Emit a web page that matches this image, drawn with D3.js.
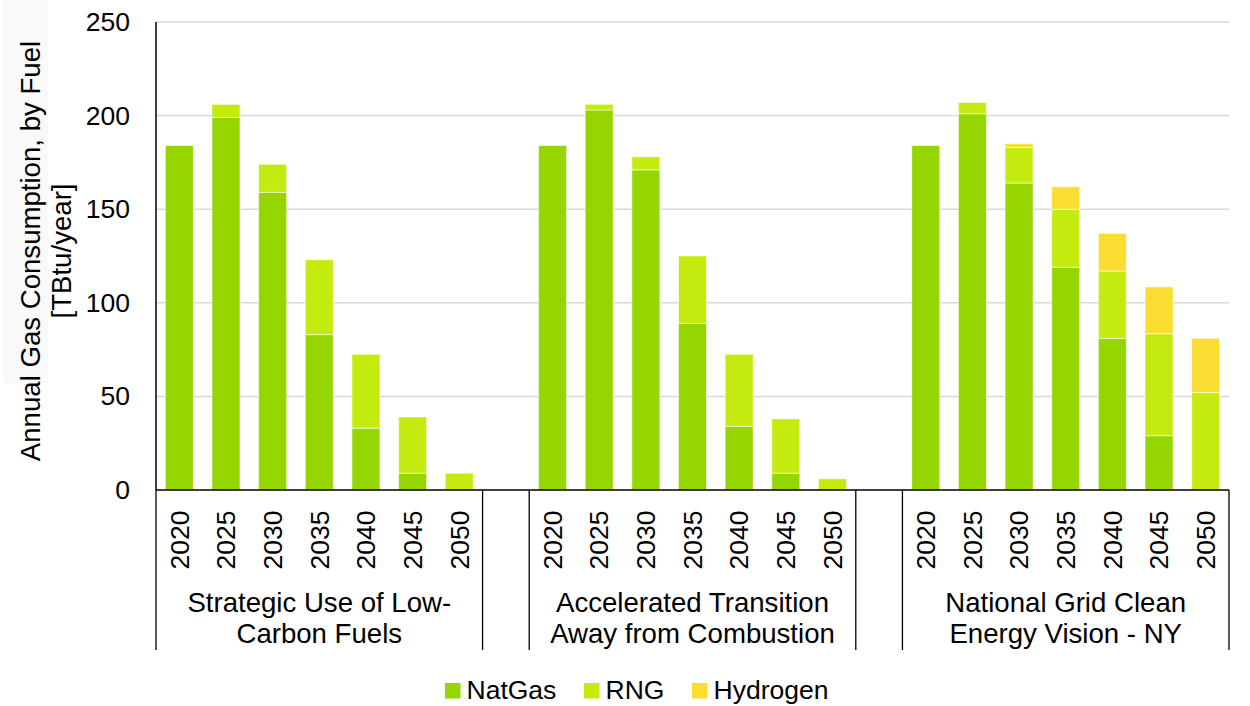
<!DOCTYPE html>
<html>
<head>
<meta charset="utf-8">
<script src="https://cdn.jsdelivr.net/npm/d3@7/dist/d3.min.js"></script>
<style>
  html, body { margin: 0; padding: 0; background: #ffffff; }
  svg { display: block; font-family: Arial, "Liberation Sans", sans-serif; }
</style>
</head>
<body>
<svg id="chart" width="1250" height="706"></svg>
<script>
// Scenario groups (each label split into its two display lines)
const scenarios = [
  ["Strategic Use of Low-", "Carbon Fuels"],
  ["Accelerated Transition", "Away from Combustion"],
  ["National Grid Clean", "Energy Vision - NY"]
];
const years = ["2020", "2025", "2030", "2035", "2040", "2045", "2050"];

// Annual consumption by fuel, TBtu/year (one row per scenario)
const natGas = [
  [184, 199, 159, 83, 33, 9, 0],
  [184, 203, 171, 89, 34, 9, 0],
  [184, 201, 164, 119, 81, 29, 0]
];
const rng = [
  [0, 7, 15, 40, 39.5, 30, 9],
  [0, 3, 7, 36, 38.5, 29, 6],
  [0, 6, 19, 31, 36, 54.5, 52]
];
const hydrogen = [
  [0, 0, 0, 0, 0, 0, 0],
  [0, 0, 0, 0, 0, 0, 0],
  [0, 0, 2, 12, 20, 25, 29]
];

const fuels = ["NatGas", "RNG", "Hydrogen"];
const fuelColors = ["#95d600", "#c4eb10", "#fbdc30"];
const yTicks = [0, 50, 100, 150, 200, 250];
const yTitle = ["Annual Gas Consumption, by Fuel", "[TBtu/year]"];

const svg = d3.select("#chart");
const plotLeft = 156, plotRight = 1229, plotTop = 22, plotBottom = 490;
const FONT = 26.5;
const FONT_LARGE = 27.6;

// Flat category list: seven years per scenario with one empty slot between scenarios
const slots = [];
scenarios.forEach((s, gi) => {
  years.forEach(yr => slots.push({ key: gi + "-" + yr, group: gi, year: yr }));
  if (gi < scenarios.length - 1) slots.push({ key: "gap-" + gi, group: null, year: null });
});

const x = d3.scaleBand().domain(slots.map(d => d.key)).range([plotLeft, plotRight])
  .paddingInner(0.4).paddingOuter(0.2);
const xCell = d3.scaleBand().domain(slots.map(d => d.key)).range([plotLeft, plotRight]).padding(0);
const y = d3.scaleLinear().domain([0, 250]).range([plotBottom, plotTop]);

// faint backdrop behind the axis title
svg.append("rect").attr("x", 3).attr("y", 0).attr("width", 45).attr("height", 383)
  .attr("fill", "#f9f9f9");

// gridlines
svg.append("g").selectAll("line").data(yTicks.filter(t => t > 0)).join("line")
  .attr("x1", plotLeft).attr("x2", plotRight)
  .attr("y1", d => y(d)).attr("y2", d => y(d))
  .attr("stroke", "#d9d9d9").attr("stroke-width", 1.5);

// y axis tick labels
const yAxis = d3.axisLeft(y).tickValues(yTicks).tickSize(0).tickPadding(26);
const gy = svg.append("g").attr("transform", `translate(${plotLeft},0)`).call(yAxis);
gy.select(".domain").remove();
gy.selectAll("text").attr("font-size", FONT).attr("fill", "#000")
  .attr("font-family", "Arial, 'Liberation Sans', sans-serif");

// stacked bars
const rows = [];
scenarios.forEach((s, gi) => {
  years.forEach((yr, yi) => {
    rows.push({ key: gi + "-" + yr, NatGas: natGas[gi][yi], RNG: rng[gi][yi], Hydrogen: hydrogen[gi][yi] });
  });
});
const stacked = d3.stack().keys(fuels)(rows);

svg.append("g").selectAll("g").data(stacked).join("g")
  .attr("fill", (d, i) => fuelColors[i])
  .selectAll("rect").data(d => d.filter(p => p[1] - p[0] > 0)).join("rect")
  .attr("x", d => x(d.data.key))
  .attr("width", x.bandwidth())
  .attr("y", d => y(d[1]))
  .attr("height", d => y(d[0]) - y(d[1]))
  .attr("stroke", "rgba(255,255,255,0.55)")
  .attr("stroke-width", 1);

// axis lines
svg.append("line").attr("x1", plotLeft).attr("x2", plotLeft).attr("y1", plotTop).attr("y2", plotBottom)
  .attr("stroke", "#000").attr("stroke-width", 1.5);
svg.append("line").attr("x1", plotLeft).attr("x2", plotRight).attr("y1", plotBottom).attr("y2", plotBottom)
  .attr("stroke", "#000").attr("stroke-width", 1.5);

// category boundaries that run down through the label area
const bounds = [plotLeft];
slots.forEach(d => {
  if (d.group === null) { bounds.push(xCell(d.key)); bounds.push(xCell(d.key) + xCell.bandwidth()); }
});
bounds.push(plotRight);
svg.append("g").selectAll("line").data(bounds).join("line")
  .attr("x1", d => d).attr("x2", d => d).attr("y1", plotBottom).attr("y2", 650)
  .attr("stroke", "#000").attr("stroke-width", 1.3);

// year labels (rotated)
svg.append("g").selectAll("text").data(slots.filter(d => d.group !== null)).join("text")
  .attr("transform", d => `translate(${x(d.key) + x.bandwidth() / 2},540) rotate(-90)`)
  .attr("text-anchor", "middle").attr("dy", "0.35em")
  .attr("font-size", FONT).attr("fill", "#000")
  .text(d => d.year);

// scenario labels
scenarios.forEach((lines, gi) => {
  const first = xCell(gi + "-" + years[0]);
  const last = xCell(gi + "-" + years[years.length - 1]) + xCell.bandwidth();
  const cx = (first + last) / 2;
  svg.append("text").attr("x", cx).attr("y", 612)
    .attr("text-anchor", "middle").attr("font-size", FONT_LARGE).attr("fill", "#000")
    .selectAll("tspan").data(lines).join("tspan")
    .attr("x", cx).attr("dy", (d, i) => i === 0 ? 0 : 31).text(d => d);
});

// y axis title
const yt = svg.append("text")
  .attr("transform", `translate(0,${(plotTop + plotBottom) / 2 - 5}) rotate(-90)`)
  .attr("text-anchor", "middle").attr("font-size", FONT_LARGE).attr("fill", "#000");
yt.selectAll("tspan").data(yTitle).join("tspan")
  .attr("x", 0).attr("y", (d, i) => 40 + i * 31).text(d => d);

// legend
const legendX = [445, 584, 692];
const lg = svg.append("g").selectAll("g").data(fuels).join("g")
  .attr("transform", (d, i) => `translate(${legendX[i]},683)`);
lg.append("rect").attr("width", 15.5).attr("height", 15.5).attr("fill", (d, i) => fuelColors[i]);
lg.append("text").attr("x", 21.5).attr("y", 16).attr("font-size", FONT).attr("fill", "#000")
  .text(d => d);
</script>
</body>
</html>
